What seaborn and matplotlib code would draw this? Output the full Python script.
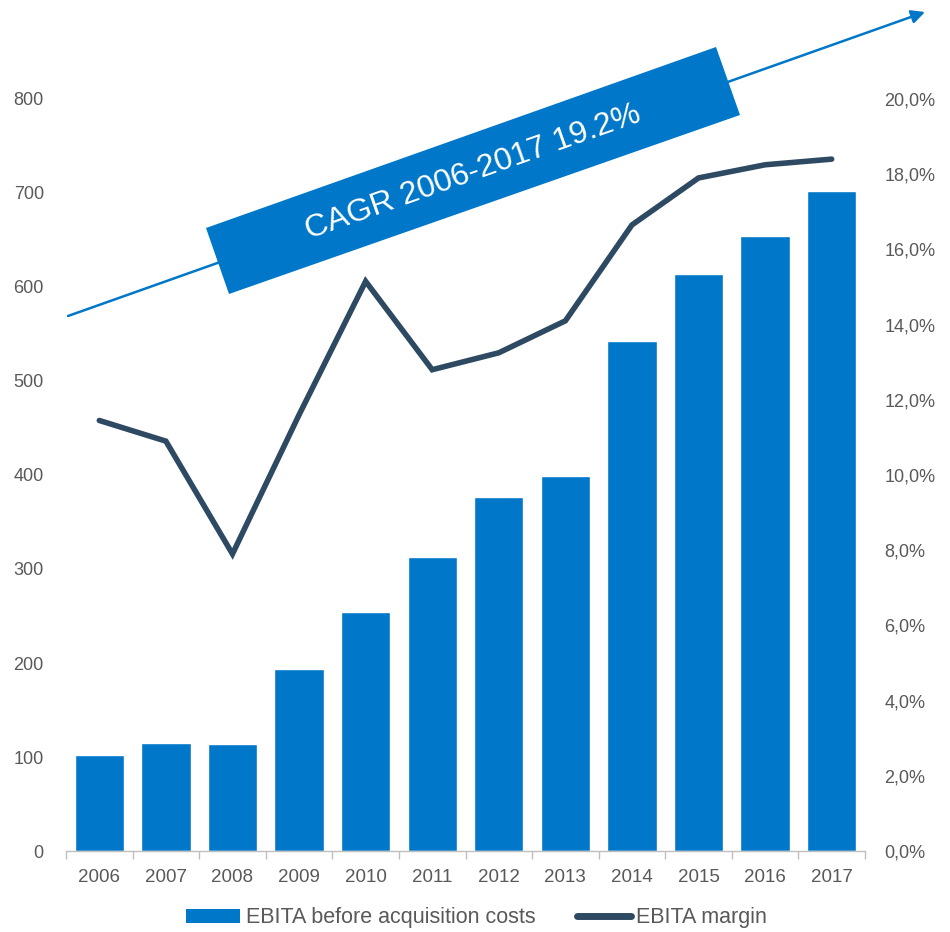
import numpy as np
import pandas as pd
import matplotlib
matplotlib.use("Agg")
import matplotlib.pyplot as plt
import seaborn as sns
from matplotlib.patches import Patch, Polygon
from matplotlib.lines import Line2D
from matplotlib.ticker import FixedLocator, FuncFormatter

years = ["2006", "2007", "2008", "2009", "2010", "2011", "2012", "2013", "2014", "2015", "2016", "2017"]
ebita = [102, 115, 114, 194, 254, 313, 377, 399, 543, 614, 654, 702]
margin = [11.45, 10.9, 7.9, 11.6, 15.15, 12.8, 13.25, 14.1, 16.65, 17.9, 18.25, 18.4]
left_ticks = [0, 100, 200, 300, 400, 500, 600, 700, 800]
right_ticks = [0, 2, 4, 6, 8, 10, 12, 14, 16, 18, 20]
bar_label = "EBITA before acquisition costs"
line_label = "EBITA margin"
cagr_text = "CAGR 2006-2017 19.2%"

BLUE = "#0077C8"
NAVY = "#2E4A62"
GREY = "#595959"

sns.set_theme(style="white")
plt.rcParams["font.family"] = ["Liberation Sans", "DejaVu Sans"]

df = pd.DataFrame({"year": years, "ebita": ebita, "margin": margin})

fig = plt.figure(figsize=(9.5, 9.32), dpi=100)
ax = fig.add_axes([0.0695, 0.0869, 0.8410, 0.8069])
sns.barplot(data=df, x="year", y="ebita", color=BLUE, saturation=1, width=0.74, ax=ax)
ax.set_xlim(-0.5, len(years) - 0.5)
ax.set_ylim(0, 800)
ax.set_yticks(left_ticks)
ax.set_xlabel("")
ax.set_ylabel("")
for s in ["top", "right", "left"]:
    ax.spines[s].set_visible(False)
ax.spines["bottom"].set_color("#BFBFBF")
ax.spines["bottom"].set_linewidth(1)
ax.tick_params(axis="x", which="major", length=0, pad=13, labelsize=13.5, labelcolor=GREY)
ax.tick_params(axis="y", length=0, pad=16, labelsize=13, labelcolor=GREY)
ax.xaxis.set_minor_locator(FixedLocator(np.arange(-0.5, len(years), 1.0)))
ax.tick_params(axis="x", which="minor", length=6, color="#BFBFBF", width=1, bottom=True)

ax2 = ax.twinx()
sns.lineplot(x=np.arange(len(years)), y=df["margin"], color=NAVY, linewidth=4, ax=ax2,
             solid_capstyle="round", solid_joinstyle="miter")
ax2.set_ylim(0, 20)
ax2.set_yticks(right_ticks)
ax2.yaxis.set_major_formatter(FuncFormatter(lambda v, p: f"{v:.1f}%".replace(".", ",")))
ax2.set_ylabel("")
for s in ["top", "right", "left", "bottom"]:
    ax2.spines[s].set_visible(False)
ax2.tick_params(axis="y", length=0, pad=14, labelsize=13, labelcolor=GREY)
ax2.grid(False)
ax.grid(False)

# CAGR arrow and box (figure pixel coordinates, origin bottom-left)
H = 932
ax.annotate("", xy=(925, H - 12), xycoords="figure pixels",
            xytext=(68, H - 316), textcoords="figure pixels",
            arrowprops=dict(arrowstyle="-|>", color=BLUE, lw=1.8, mutation_scale=20,
                            shrinkA=0, shrinkB=0), annotation_clip=False)
corners = [(206, H - 228), (716, H - 47), (740, H - 115), (229, H - 294)]
poly = Polygon(corners, closed=True, transform=None, facecolor=BLUE, edgecolor="none",
               zorder=5)
fig.patches.append(poly)
fig.text(473 / 950, (H - 172) / H, cagr_text, rotation=19.5, rotation_mode="anchor",
         ha="center", va="center", color="white", fontsize=23, zorder=6)

handles = [Patch(facecolor=BLUE, edgecolor="none", label=bar_label),
           Line2D([0], [0], color=NAVY, lw=5, solid_capstyle="round", label=line_label)]
fig.legend(handles=handles, loc="center", bbox_to_anchor=(0.502, (H - 918) / H), ncol=2,
           frameon=False, fontsize=15.5, labelcolor=GREY, handlelength=2.5,
           handleheight=0.6, handletextpad=0.25, columnspacing=1.95,
           borderpad=0.1)

fig.savefig("out.png", dpi=100)
